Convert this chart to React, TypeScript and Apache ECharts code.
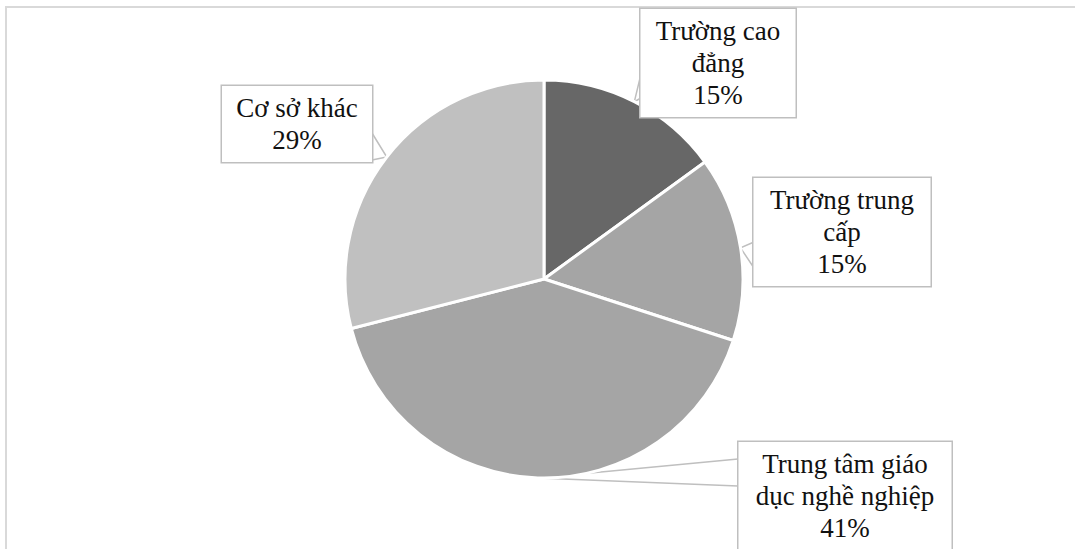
import React, { useEffect, useRef } from "react";
import * as echarts from "echarts";

const categories = [
  "Trường cao đẳng",
  "Trường trung cấp",
  "Trung tâm giáo dục nghề nghiệp",
  "Cơ sở khác",
];
const values = [15, 15, 41, 29];
const labelTexts = [
  "Trường cao\nđẳng",
  "Trường trung\ncấp",
  "Trung tâm giáo\ndục nghề nghiệp",
  "Cơ sở khác",
];
const sliceColors = ["#676767", "#a5a5a5", "#a5a5a5", "#c0c0c0"];

// label box layout (center x, center y, box width)
const boxCenters = [
  [718, 63],
  [842, 232],
  [845, 496],
  [297, 124],
];
const boxWidths = [155, 177, 213, 150];
// callout pointer base points on each box edge
const pointerBases = [
  [[641, 74], [641, 98]],
  [[754, 242], [754, 268]],
  [[738, 459], [738, 486]],
  [[372, 133], [372, 160]],
];

const FONT = "Liberation Serif";

export default function App() {
  const ref = useRef<HTMLDivElement>(null);
  useEffect(() => {
    if (!ref.current) return;
    const chart = echarts.init(ref.current, undefined, { renderer: "svg" });
    const labelStyle = {
      fontFamily: FONT,
      fontSize: 27,
      lineHeight: 32,
      color: "#111111",
    };
    chart.setOption({
      animation: false,
      backgroundColor: "#ffffff",
      textStyle: { fontFamily: FONT },
      graphic: [
        {
          type: "rect",
          shape: { x: 6, y: 7, width: 1200, height: 700 },
          style: { fill: "none", stroke: "#d9d9d9", lineWidth: 2 },
          z: -10,
          silent: true,
        },
      ],
      series: [
        {
          type: "pie",
          center: [544, 279],
          radius: 199,
          startAngle: 90,
          clockwise: true,
          avoidLabelOverlap: false,
          itemStyle: { borderColor: "#ffffff", borderWidth: 3 },
          label: {
            show: true,
            position: "outside",
            ...labelStyle,
            align: "center",
            backgroundColor: "#ffffff",
            borderColor: "#bfbfbf",
            borderWidth: 1.5,
            padding: [6, 6],
            formatter: (p: any) => `${labelTexts[p.dataIndex]}\n${Math.round(p.percent)}%`,
          },
          labelLine: {
            show: true,
            length: 8,
            length2: 8,
            smooth: false,
            lineStyle: { color: "#bfbfbf", width: 1.5 },
          },
          labelLayout: (params: any) => {
            const i = params.dataIndex;
            const tip = params.labelLinePoints ? params.labelLinePoints[0] : null;
            const out: any = {
              x: boxCenters[i][0],
              y: boxCenters[i][1],
              align: "center",
              verticalAlign: "middle",
            };
            if (tip) {
              out.labelLinePoints = [pointerBases[i][0], tip, pointerBases[i][1]];
            }
            return out;
          },
          emphasis: { disabled: true },
          data: categories.map((name, i) => ({
            name,
            value: values[i],
            itemStyle: { color: sliceColors[i] },
            label: { width: boxWidths[i] - 12 },
          })),
        },
      ],
    });
    return () => chart.dispose();
  }, []);
  return (
    <div
      ref={ref}
      style={{ position: "absolute", left: 0, top: 0, width: 1075, height: 549 }}
    />
  );
}
